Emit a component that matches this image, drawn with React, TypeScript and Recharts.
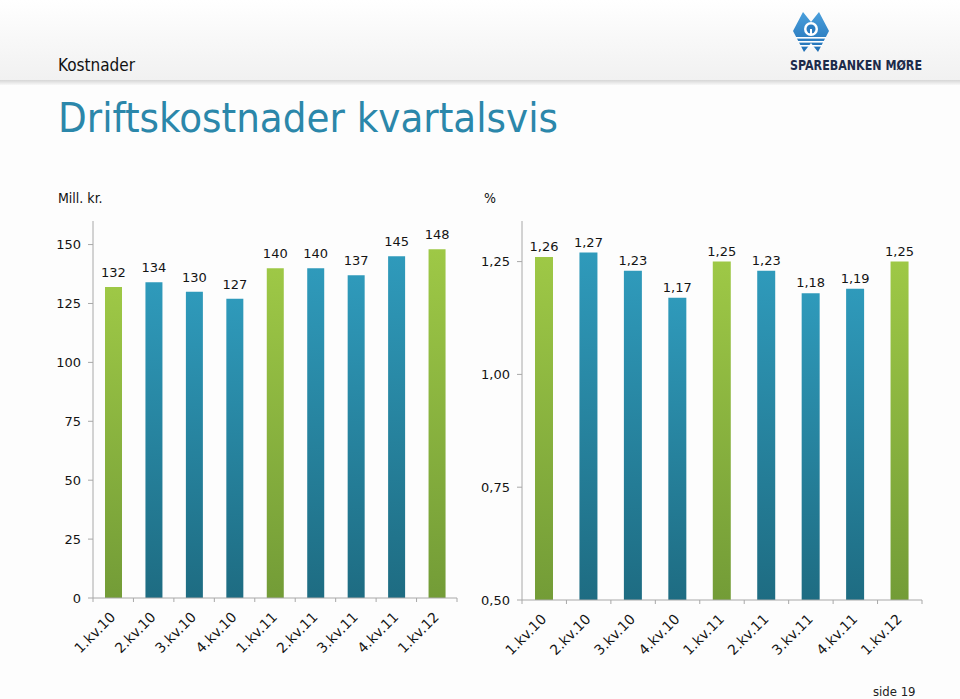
import React from "react";
import { BarChart, Bar, XAxis, YAxis, Cell, LabelList } from "recharts";

// Kvartaler og verdier lest av bildet
const quarters = [
  "1.kv.10",
  "2.kv.10",
  "3.kv.10",
  "4.kv.10",
  "1.kv.11",
  "2.kv.11",
  "3.kv.11",
  "4.kv.11",
  "1.kv.12",
];
const costMillions = [132, 134, 130, 127, 140, 140, 137, 145, 148];
const costPercent = [1.26, 1.27, 1.23, 1.17, 1.25, 1.23, 1.18, 1.19, 1.25];
const millTicks = [0, 25, 50, 75, 100, 125, 150];
const pctTicks = [0.5, 0.75, 1.0, 1.25];

const costData = quarters.map((quarter, i) => ({ quarter, value: costMillions[i] }));
const pctData = quarters.map((quarter, i) => ({ quarter, value: costPercent[i] }));

const FONT = "'DejaVu Sans', Verdana, sans-serif";
const COND = "'DejaVu Sans Condensed', Tahoma, sans-serif";
const AXIS = "#a8a8a8";
const TEXT = "#141414";

const isFirstQuarter = (q: string) => q.startsWith("1.");
const comma = (v: number) => v.toFixed(2).replace(".", ",");

const QuarterTick = (props: any) => {
  const { x, y, payload, index, visibleTicksCount, width } = props;
  const band =
    payload && payload.offset ? payload.offset * 2 : width / visibleTicksCount;
  const top = y - 4;
  const ax = x + 3;
  const ay = y + 16;
  return (
    <g>
      {index === 0 && (
        <line x1={x - band / 2} x2={x - band / 2} y1={top} y2={y} stroke={AXIS} />
      )}
      <line x1={x + band / 2} x2={x + band / 2} y1={top} y2={y} stroke={AXIS} />
      <text
        x={ax}
        y={ay}
        textAnchor="end"
        transform={`rotate(-45 ${ax} ${ay})`}
        fontSize={14}
        fill={TEXT}
        fontFamily={FONT}
      >
        {payload.value}
      </text>
    </g>
  );
};

const barFill = (q: string) => (isFirstQuarter(q) ? "url(#gGreen)" : "url(#gBlue)");

const Logo = () => (
  <g>
    <defs>
      <linearGradient id="gLogo" x1="0" y1="0" x2="0" y2="1">
        <stop offset="0%" stopColor="#4a9fdc" />
        <stop offset="100%" stopColor="#1f6fb5" />
      </linearGradient>
    </defs>
    <path
      d="M793 31 L803 12 L811 22 L819 12 L829 31 L818 52 L811 43 L804 52 Z"
      fill="url(#gLogo)"
    />
    <circle cx={811} cy={29} r={7} fill="#ffffff" />
    <circle cx={811} cy={29} r={4.5} fill="#2b7cc0" />
    <rect x={810} y={29} width={2} height={5} fill="#ffffff" />
    <rect x={796} y={37} width={30} height={1.6} fill="#ffffff" />
    <rect x={798} y={41} width={26} height={1.6} fill="#ffffff" />
    <rect x={800} y={45} width={22} height={1.6} fill="#ffffff" />
    <text
      x={790}
      y={70}
      fontFamily={COND}
      fontWeight="bold"
      fontSize={14}
      fill="#1d2b4a"
      textLength={132}
      lengthAdjust="spacingAndGlyphs"
    >
      SPAREBANKEN MØRE
    </text>
  </g>
);

export default function App() {
  return (
    <div
      style={{
        position: "absolute",
        left: 0,
        top: 0,
        width: 960,
        height: 699,
        background: "#fdfdfd",
        overflow: "hidden",
      }}
    >
      <svg width={0} height={0} style={{ position: "absolute" }}>
        <defs>
          <linearGradient id="gGreen" x1="0" y1="0" x2="0" y2="1">
            <stop offset="0%" stopColor="#9ec846" />
            <stop offset="100%" stopColor="#739c37" />
          </linearGradient>
          <linearGradient id="gBlue" x1="0" y1="0" x2="0" y2="1">
            <stop offset="0%" stopColor="#2f9abb" />
            <stop offset="100%" stopColor="#1e6c82" />
          </linearGradient>
        </defs>
      </svg>

      <svg
        width={960}
        height={699}
        style={{ position: "absolute", left: 0, top: 0 }}
      >
        <defs>
          <linearGradient id="gHead" x1="0" y1="0" x2="0" y2="1">
            <stop offset="0%" stopColor="#ffffff" />
            <stop offset="100%" stopColor="#f1f1f1" />
          </linearGradient>
          <linearGradient id="gShadow" x1="0" y1="0" x2="0" y2="1">
            <stop offset="0%" stopColor="#d6d6d6" />
            <stop offset="100%" stopColor="#f8f8f8" />
          </linearGradient>
        </defs>
        <rect x={0} y={0} width={960} height={80} fill="url(#gHead)" />
        <rect x={0} y={80} width={960} height={5} fill="url(#gShadow)" />
        <Logo />
        <text x={58} y={71} fontFamily={COND} fontSize={17} fill="#111">
          Kostnader
        </text>
        <text
          x={58}
          y={132}
          fontFamily={COND}
          fontSize={41}
          fill="#2b87aa"
          textLength={500}
          lengthAdjust="spacingAndGlyphs"
        >
          Driftskostnader kvartalsvis
        </text>
        <text x={58} y={203} fontFamily={COND} fontSize={14} fill="#111">
          Mill. kr.
        </text>
        <text x={484} y={203} fontFamily={COND} fontSize={14} fill="#111">
          %
        </text>
        <text x={873} y={696} fontFamily={COND} fontSize={13} fill="#222">
          side 19
        </text>
      </svg>

      <div style={{ position: "absolute", left: 0, top: 0 }}>
        <BarChart
          width={480}
          height={699}
          data={costData}
          margin={{ top: 221, right: 23, bottom: 31, left: 43 }}
        >
          <XAxis
            dataKey="quarter"
            interval={0}
            height={70}
            axisLine={{ stroke: AXIS }}
            tickLine={false}
            tickSize={4}
            tickMargin={0}
            tick={<QuarterTick />}
          />
          <YAxis
            width={50}
            domain={[0, 160]}
            ticks={millTicks}
            interval={0}
            axisLine={{ stroke: AXIS }}
            tickLine={{ stroke: AXIS }}
            tickSize={5}
            tickMargin={7}
            tick={{ fontSize: 13, fill: TEXT, fontFamily: FONT }}
          />
          <Bar dataKey="value" barSize={17} isAnimationActive={false}>
            {costData.map((d) => (
              <Cell key={d.quarter} fill={barFill(d.quarter)} />
            ))}
            <LabelList
              dataKey="value"
              position="top"
              offset={10}
              fontSize={13}
              fill={TEXT}
              fontFamily={FONT}
            />
          </Bar>
        </BarChart>
      </div>

      <div style={{ position: "absolute", left: 440, top: 0 }}>
        <BarChart
          width={520}
          height={699}
          data={pctData}
          margin={{ top: 221, right: 38, bottom: 29, left: 32 }}
        >
          <XAxis
            dataKey="quarter"
            interval={0}
            height={70}
            axisLine={{ stroke: AXIS }}
            tickLine={false}
            tickSize={4}
            tickMargin={0}
            tick={<QuarterTick />}
          />
          <YAxis
            width={50}
            domain={[0.5, 1.34]}
            ticks={pctTicks}
            interval={0}
            tickFormatter={comma}
            axisLine={{ stroke: AXIS }}
            tickLine={{ stroke: AXIS }}
            tickSize={5}
            tickMargin={7}
            tick={{ fontSize: 13, fill: TEXT, fontFamily: FONT }}
          />
          <Bar dataKey="value" barSize={18} isAnimationActive={false}>
            {pctData.map((d) => (
              <Cell key={d.quarter} fill={barFill(d.quarter)} />
            ))}
            <LabelList
              dataKey="value"
              position="top"
              offset={6}
              fontSize={13}
              fill={TEXT}
              fontFamily={FONT}
              formatter={(v: any) => comma(Number(v))}
            />
          </Bar>
        </BarChart>
      </div>
    </div>
  );
}
